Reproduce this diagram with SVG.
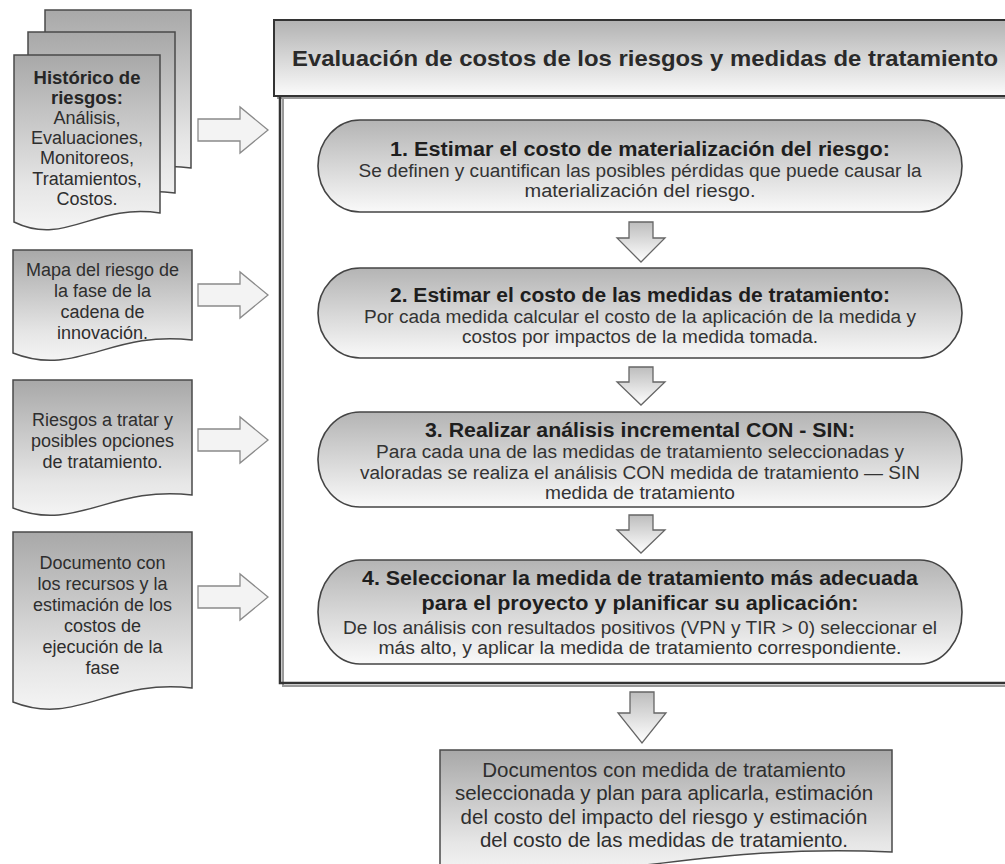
<svg xmlns="http://www.w3.org/2000/svg" width="1005" height="864" viewBox="0 0 1005 864">
<defs>
<linearGradient id="gDoc" x1="0" y1="0" x2="0" y2="1"><stop offset="0" stop-color="#a8a8a8"/><stop offset="0.75" stop-color="#e6e6e6"/><stop offset="1" stop-color="#f4f4f4"/></linearGradient>
<linearGradient id="gPill" x1="0" y1="0" x2="0" y2="1"><stop offset="0" stop-color="#b4b4b4"/><stop offset="1" stop-color="#f9f9f9"/></linearGradient>
<linearGradient id="gHead" x1="0" y1="0" x2="0" y2="1"><stop offset="0" stop-color="#b2b2b2"/><stop offset="1" stop-color="#fbfbfb"/></linearGradient>
<linearGradient id="gDown" x1="0" y1="0" x2="0" y2="1"><stop offset="0" stop-color="#bdbdbd"/><stop offset="1" stop-color="#ffffff"/></linearGradient>
<style>
.doc{fill:url(#gDoc);stroke:#4a4a4a;stroke-width:1.5}
.pill{fill:url(#gPill);stroke:#444;stroke-width:1.6}
.rarr{fill:#f3f3f3;stroke:#8a8a8a;stroke-width:1.3}
.darr{fill:url(#gDown);stroke:#666;stroke-width:1.3}
.t{font-family:"Liberation Sans",Arial,sans-serif;fill:#2e2e2e;text-anchor:middle}
.d{font-size:18px}
.db{font-size:18.5px;font-weight:bold;fill:#262626}
.pt{font-size:20px;font-weight:bold;fill:#1e1e1e}
.pb{font-size:18px;fill:#333}
.fd{font-size:20.5px}
</style>
</defs>
<rect width="1005" height="864" fill="#ffffff"/>

<g id="frame">
<rect x="277" y="23" width="760" height="76" fill="#9a9a9a"/>
<rect x="274" y="20" width="760" height="76" fill="url(#gHead)" stroke="#333" stroke-width="2"/>
<path d="M283,99 V686 H1010" fill="none" stroke="#9a9a9a" stroke-width="2"/>
<path d="M280,96 V683 H1010" fill="none" stroke="#333" stroke-width="2.5"/>
<text class="t" x="292" y="66" style="text-anchor:start;font-size:22px;font-weight:bold;fill:#2a2a2a" textLength="706" lengthAdjust="spacingAndGlyphs">Evaluación de costos de los riesgos y medidas de tratamiento</text>
</g>

<g id="doc-historico">
<path class="doc" d="M45,10 H191 V168 C125.3,158 96.1,201 45,176 Z"/>
<path class="doc" d="M28,32 H175 V193 C108.9,183 79.5,225 28,200 Z"/>
<path class="doc" d="M14,55 H160 V213 C94.3,203 65.1,247 14,222 Z"/>
<text class="t db" x="87" y="84">Histórico de</text>
<text class="t db" x="87" y="104">riesgos:</text>
<text class="t d" x="87" y="124">Análisis,</text>
<text class="t d" x="87" y="144">Evaluaciones,</text>
<text class="t d" x="87" y="164">Monitoreos,</text>
<text class="t d" x="87" y="185">Tratamientos,</text>
<text class="t d" x="87" y="205">Costos.</text>
</g>

<g id="doc-mapa">
<path class="doc" d="M13,250 H192 V340 C111.5,330 75.7,378 13,353 Z"/>
<text class="t d" x="102.5" y="276">Mapa del riesgo de</text>
<text class="t d" x="102.5" y="297">la fase de la</text>
<text class="t d" x="102.5" y="318">cadena de</text>
<text class="t d" x="102.5" y="339">innovación.</text>
</g>

<g id="doc-riesgos">
<path class="doc" d="M13,380 H192 V495 C111.5,485 75.7,533 13,508 Z"/>
<text class="t d" x="102.5" y="426">Riesgos a tratar y</text>
<text class="t d" x="102.5" y="447">posibles opciones</text>
<text class="t d" x="102.5" y="468">de tratamiento.</text>
</g>

<g id="doc-recursos">
<path class="doc" d="M13,532 H192 V688 C111.5,678 75.7,727 13,702 Z"/>
<text class="t d" x="102.5" y="569">Documento con</text>
<text class="t d" x="102.5" y="590">los recursos y la</text>
<text class="t d" x="102.5" y="611">estimación de los</text>
<text class="t d" x="102.5" y="632">costos de</text>
<text class="t d" x="102.5" y="653">ejecución de la</text>
<text class="t d" x="102.5" y="674">fase</text>
</g>

<g id="step1">
<rect class="pill" x="318" y="120" width="644" height="92" rx="42" ry="46"/>
<text class="t pt" x="640" y="156" textLength="500" lengthAdjust="spacingAndGlyphs">1. Estimar el costo de materialización del riesgo:</text>
<text class="t pb" x="640" y="177" textLength="563" lengthAdjust="spacingAndGlyphs">Se definen y cuantifican las posibles pérdidas que puede causar la</text>
<text class="t pb" x="640" y="197" textLength="231" lengthAdjust="spacingAndGlyphs">materialización del riesgo.</text>
</g>

<g id="step2">
<rect class="pill" x="318" y="268" width="644" height="90" rx="42" ry="45"/>
<text class="t pt" x="640" y="302" textLength="500" lengthAdjust="spacingAndGlyphs">2. Estimar el costo de las medidas de tratamiento:</text>
<text class="t pb" x="640" y="323" textLength="552" lengthAdjust="spacingAndGlyphs">Por cada medida calcular el costo de la aplicación de la medida y</text>
<text class="t pb" x="640" y="343" textLength="356" lengthAdjust="spacingAndGlyphs">costos por impactos de la medida tomada.</text>
</g>

<g id="step3">
<rect class="pill" x="318" y="412" width="644" height="95" rx="42" ry="47"/>
<text class="t pt" x="640" y="437" textLength="430" lengthAdjust="spacingAndGlyphs">3. Realizar análisis incremental CON - SIN:</text>
<text class="t pb" x="640" y="458" textLength="528" lengthAdjust="spacingAndGlyphs">Para cada una de las medidas de tratamiento seleccionadas y</text>
<text class="t pb" x="640" y="479" textLength="560" lengthAdjust="spacingAndGlyphs">valoradas se realiza el análisis CON medida de tratamiento — SIN</text>
<text class="t pb" x="640" y="499" textLength="190" lengthAdjust="spacingAndGlyphs">medida de tratamiento</text>
</g>

<g id="step4">
<rect class="pill" x="318" y="560" width="644" height="104" rx="42" ry="52"/>
<text class="t pt" x="640" y="585" textLength="556" lengthAdjust="spacingAndGlyphs">4. Seleccionar la medida de tratamiento más adecuada</text>
<text class="t pt" x="640" y="610" textLength="437" lengthAdjust="spacingAndGlyphs">para el proyecto y planificar su aplicación:</text>
<text class="t pb" x="640" y="634" textLength="594" lengthAdjust="spacingAndGlyphs">De los análisis con resultados positivos (VPN y TIR &gt; 0) seleccionar el</text>
<text class="t pb" x="640" y="654" textLength="523" lengthAdjust="spacingAndGlyphs">más alto, y aplicar la medida de tratamiento correspondiente.</text>
</g>

<g id="doc-resultado">
<path class="doc" d="M440,750 H892 V852 C688.6,842 598.2,891 440,866 Z"/>
<text class="t fd" x="664" y="777">Documentos con medida de tratamiento</text>
<text class="t fd" x="664" y="800">seleccionada y plan para aplicarla, estimación</text>
<text class="t fd" x="664" y="824">del costo del impacto del riesgo y estimación</text>
<text class="t fd" x="664" y="847">del costo de las medidas de tratamiento.</text>
</g>

<g id="connectors">
<path class="rarr" d="M198,119 H240 V107 L268,130 L240,153 V141 H198 Z"/>
<path class="rarr" d="M198,284 H240 V272 L268,295 L240,318 V306 H198 Z"/>
<path class="rarr" d="M198,429 H240 V417 L268,440 L240,463 V451 H198 Z"/>
<path class="rarr" d="M198,586 H240 V574 L268,597 L240,620 V608 H198 Z"/>
<path class="darr" d="M629,222 H653 V238 H665 L641,262 L617,238 H629 Z"/>
<path class="darr" d="M629,367 H653 V382 H665 L641,405 L617,382 H629 Z"/>
<path class="darr" d="M629,515 H653 V530 H665 L641,553 L617,530 H629 Z"/>
<path class="darr" d="M630,692 H654 V713 H666 L642,743 L618,713 H630 Z"/>
</g>
</svg>
